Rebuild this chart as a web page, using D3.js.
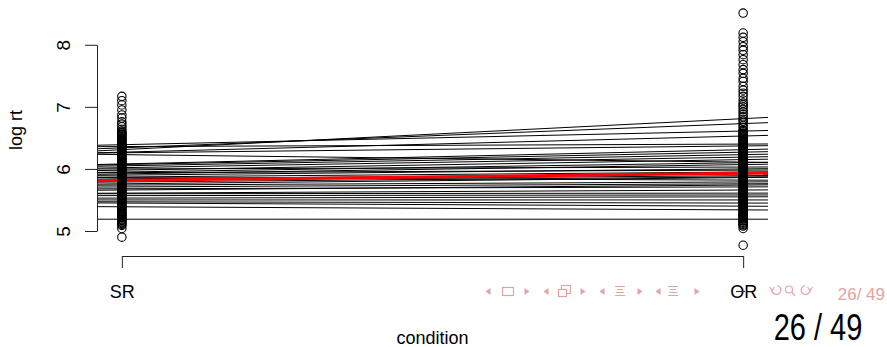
<!DOCTYPE html>
<html>
<head>
<meta charset="utf-8">
<script src="https://cdn.jsdelivr.net/npm/d3@7"></script>
<style>
  html, body { margin: 0; padding: 0; background: #fff; }
  svg { display: block; }
  text { font-family: "Liberation Sans", Arial, Helvetica, sans-serif; }
</style>
</head>
<body>
<svg id="chart" width="887" height="347"></svg>
<script>
// ---------------- data ----------------
const xLabels = ["SR", "OR"];
const xTicks = [1, 2];
const yTicks = [5, 6, 7, 8];
const yTitle = "log rt";
const xTitle = "condition";

// per-subject fitted lines (log rt at SR, at OR)
const subjSR = [6.39,6.36,6.34,6.31,6.27,6.26,6.23,6.08,6.07,6.05,6.02,6.00,5.98,5.95,5.94,5.92,5.90,5.87,5.86,5.84,5.82,5.79,5.76,5.74,5.71,5.68,5.66,5.61,5.60,5.57,5.53,5.50,5.47,5.45,5.39,5.19];
const subjOR = [6.61,6.40,6.73,6.81,6.53,6.37,6.11,6.31,6.27,6.23,6.19,6.03,6.15,6.10,5.98,6.07,6.00,5.95,5.82,5.92,5.89,5.87,5.86,5.79,5.76,5.71,5.74,5.66,5.61,5.58,5.55,5.50,5.45,5.40,5.34,5.19];

// overall (fixed-effect) line
const meanSR = 5.815;
const meanOR = 5.93;

// raw log rt observations
const pointsSR = [4.90,5.04,
  5.09,5.105,5.12,5.135,5.15,5.17,5.18,5.195,5.21,5.225,5.24,5.26,5.27,5.285,5.30,5.315,5.33,5.35,5.36,5.375,5.39,5.405,5.42,5.44,5.45,5.465,5.48,5.495,5.51,5.53,5.54,5.555,5.57,5.585,5.60,5.62,5.63,5.645,5.66,5.675,5.69,5.71,5.72,5.735,5.75,5.765,5.78,5.80,5.81,5.825,5.84,5.855,5.87,5.89,5.90,5.915,5.93,5.945,5.96,5.98,5.99,6.005,6.02,6.035,6.05,6.07,6.08,6.095,6.11,6.125,6.14,6.16,6.17,6.185,6.20,6.215,6.23,6.25,6.26,6.275,6.29,6.305,6.32,6.34,6.35,6.365,6.38,6.395,6.41,6.43,6.44,6.455,6.47,6.485,6.50,6.52,6.53,6.545,6.56,6.575,6.59,6.61,
  6.64,6.68,6.72,6.76,6.82,6.87,6.95,7.03,7.10,7.17];
const pointsOR = [4.77,5.04,
  5.08,5.095,5.11,5.125,5.14,5.16,5.17,5.185,5.20,5.215,5.23,5.25,5.26,5.275,5.29,5.305,5.32,5.34,5.35,5.365,5.38,5.395,5.41,5.43,5.44,5.455,5.47,5.485,5.50,5.52,5.53,5.545,5.56,5.575,5.59,5.61,5.62,5.635,5.65,5.665,5.68,5.70,5.71,5.725,5.74,5.755,5.77,5.79,5.80,5.815,5.83,5.845,5.86,5.88,5.89,5.905,5.92,5.935,5.95,5.97,5.98,5.995,6.01,6.025,6.04,6.06,6.07,6.085,6.10,6.115,6.13,6.15,6.16,6.175,6.19,6.205,6.22,6.24,6.25,6.265,6.28,6.295,6.31,6.33,6.34,6.355,6.37,6.385,6.40,6.42,6.43,6.445,6.46,6.475,6.49,6.51,6.52,6.535,6.55,6.565,6.58,6.60,6.615,6.63,
  6.67,6.70,6.74,6.77,6.80,6.84,6.88,6.92,6.96,7.00,7.03,7.06,7.11,7.17,7.22,7.27,7.33,7.41,7.46,7.54,7.60,7.68,7.76,7.84,7.91,7.97,8.05,8.12,8.19,8.51];

// slide footer
const pageSmall = "26/ 49";
const pageBig = "26 / 49";

// ---------------- drawing ----------------
const svg = d3.select("#chart");
const xDom = [0.96, 2.04];
const x = d3.scaleLinear().domain(xDom).range([97, 768]);
const y = d3.scaleLinear().domain([4.597, 8.657]).range([256, 4]);

const lineAt = (a, b, xv) => a + b * (xv - 1);

// subject lines
const subj = subjSR.map((s, i) => ({a: s, b: subjOR[i] - s}));
svg.append("g").selectAll("line").data(subj).join("line")
  .attr("x1", x(xDom[0])).attr("x2", x(xDom[1]))
  .attr("y1", d => y(lineAt(d.a, d.b, xDom[0])))
  .attr("y2", d => y(lineAt(d.a, d.b, xDom[1])))
  .attr("stroke", "#000").attr("stroke-width", 1);

// mean line
svg.append("line")
  .attr("x1", x(xDom[0])).attr("x2", x(xDom[1]))
  .attr("y1", y(lineAt(meanSR, meanOR - meanSR, xDom[0])))
  .attr("y2", y(lineAt(meanSR, meanOR - meanSR, xDom[1])))
  .attr("stroke", "#ff0000").attr("stroke-width", 3);

// points
const pts = pointsSR.map(v => ({c: 1, v})).concat(pointsOR.map(v => ({c: 2, v})));
svg.append("g").selectAll("circle").data(pts).join("circle")
  .attr("cx", d => x(d.c)).attr("cy", d => y(d.v)).attr("r", 4.2)
  .attr("fill", "none").attr("stroke", "#000").attr("stroke-width", 1.1);

// y axis
const yAx = d3.scaleLinear().domain([5, 8]).range([y(5), y(8)]);
const gy = svg.append("g").attr("transform", "translate(97,0)")
  .call(d3.axisLeft(yAx).tickValues(yTicks).tickSize(12).tickSizeOuter(0).tickFormat(d3.format("d")));
gy.selectAll("path, line").attr("stroke", "#222");
gy.selectAll("text")
  .attr("x", 0).attr("y", 0).attr("dy", 0)
  .attr("transform", "translate(-27,0) rotate(-90)")
  .attr("text-anchor", "middle")
  .attr("font-size", 19).attr("fill", "#000")
  .style("font-family", '"Liberation Sans", Arial, sans-serif');

// x axis
const xAx = d3.scaleLinear().domain([1, 2]).range([x(1), x(2)]);
const gx = svg.append("g").attr("transform", "translate(0,256)")
  .call(d3.axisBottom(xAx).tickValues(xTicks).tickSize(12).tickSizeOuter(0).tickFormat((d, i) => xLabels[i]));
gx.selectAll("path, line").attr("stroke", "#222");
gx.selectAll("text")
  .attr("y", 42).attr("dy", 0)
  .attr("font-size", 18).attr("fill", "#000")
  .style("font-family", '"Liberation Sans", Arial, sans-serif');

// axis titles
svg.append("text").attr("transform", "translate(21.5,130) rotate(-90)")
  .attr("text-anchor", "middle").attr("font-size", 18).text(yTitle);
svg.append("text").attr("x", 432.5).attr("y", 344)
  .attr("text-anchor", "middle").attr("font-size", 18).text(xTitle);

// beamer navigation symbols (decorative)
const pink = "#e2a3a3";
const nav = svg.append("g").attr("fill", "none").attr("stroke", pink).attr("stroke-width", 1.2);
const cy = 291.5;
const triL = cx => `M${cx+2.5},${cy-3.5}L${cx-2.5},${cy}L${cx+2.5},${cy+3.5}Z`;
const triR = cx => `M${cx-2.5},${cy-3.5}L${cx+2.5},${cy}L${cx-2.5},${cy+3.5}Z`;
[488, 546, 602, 658].forEach(cx => nav.append("path").attr("d", triL(cx)).attr("fill", pink).attr("stroke", "none"));
[527, 583, 640, 697].forEach(cx => nav.append("path").attr("d", triR(cx)).attr("fill", pink).attr("stroke", "none"));
nav.append("rect").attr("x", 502.5).attr("y", 287.5).attr("width", 11).attr("height", 8);
nav.append("rect").attr("x", 558.5).attr("y", 289.5).attr("width", 8).attr("height", 7);
nav.append("path").attr("d", "M561.5,289.5V285.5H570.5V293.5H566.5");
[615, 668].forEach(a => {
  nav.append("path").attr("d", `M${a},286.5H${a+10}M${a+2},289.5H${a+8}M${a+1},292.5H${a+9}M${a},295.5H${a+10}`);
});
// undo / search / redo
nav.append("path").attr("d", "M772,289a4.5,4.5 0 1 0 5,-3.5");
nav.append("path").attr("d", "M769.5,287l2.5,3.5l2.5,-3.5");
nav.append("circle").attr("cx", 789).attr("cy", 289.5).attr("r", 3.5);
nav.append("path").attr("d", "M791.5,292l3.5,3.5");
nav.append("path").attr("d", "M810,289a4.5,4.5 0 1 1 -5,-3.5");
nav.append("path").attr("d", "M812.5,287l-2.5,3.5l-2.5,-3.5");
nav.append("path").attr("d", "M736,291.5H745").attr("stroke", "#333");

svg.append("text").attr("x", 885).attr("y", 300).attr("text-anchor", "end")
  .attr("font-size", 17).attr("fill", pink).text(pageSmall);
svg.append("text").attr("transform", "translate(818,340) scale(1,1.28)")
  .attr("text-anchor", "middle").attr("font-size", 29).attr("fill", "#000").text(pageBig);
</script>
</body>
</html>
